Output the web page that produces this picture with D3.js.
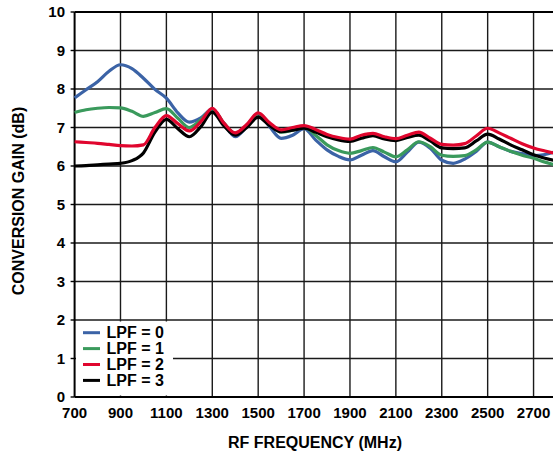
<!DOCTYPE html>
<html><head><meta charset="utf-8">
<script src="https://cdn.jsdelivr.net/npm/d3@7"></script>
<style>body{margin:0;background:#fff}svg{display:block}text{font-family:"Liberation Sans",Arial,sans-serif;font-weight:bold;fill:#000}</style>
</head><body>
<script>
const freqs = [700,750,800,850,900,950,1000,1050,1100,1150,1200,1250,1300,1350,1400,1450,1500,1550,1600,1650,1700,1750,1800,1850,1900,1950,2000,2050,2100,2150,2200,2250,2300,2350,2400,2450,2500,2550,2600,2650,2700,2750,2800];
const lpf0 = [7.77,7.98,8.19,8.46,8.63,8.53,8.28,7.99,7.76,7.38,7.14,7.25,7.48,7.10,6.76,7.02,7.36,7.02,6.72,6.80,6.97,6.68,6.42,6.25,6.16,6.28,6.40,6.24,6.11,6.36,6.62,6.46,6.15,6.07,6.18,6.38,6.62,6.50,6.38,6.32,6.27,6.30,6.38];
const lpf1 = [7.39,7.46,7.50,7.52,7.51,7.42,7.29,7.39,7.49,7.24,7.00,7.20,7.48,7.12,6.85,7.05,7.36,7.10,6.88,6.93,7.00,6.80,6.55,6.40,6.33,6.40,6.48,6.36,6.24,6.42,6.63,6.50,6.28,6.25,6.27,6.42,6.62,6.50,6.38,6.28,6.20,6.10,6.02];
const lpf2 = [6.63,6.61,6.59,6.56,6.53,6.52,6.55,7.00,7.31,7.10,6.91,7.15,7.50,7.12,6.86,7.08,7.38,7.12,6.94,7.00,7.05,6.95,6.82,6.74,6.70,6.80,6.85,6.76,6.71,6.80,6.88,6.72,6.56,6.54,6.58,6.78,6.98,6.86,6.72,6.58,6.47,6.39,6.32];
const lpf3 = [6.00,6.01,6.03,6.05,6.07,6.14,6.34,6.88,7.21,6.97,6.76,7.02,7.40,7.05,6.80,7.00,7.27,7.05,6.89,6.93,6.98,6.88,6.76,6.68,6.64,6.72,6.79,6.70,6.66,6.74,6.80,6.65,6.47,6.45,6.47,6.65,6.83,6.70,6.55,6.42,6.29,6.20,6.13];
const seriesNames = ["LPF = 0","LPF = 1","LPF = 2","LPF = 3"];
const seriesColors = ["#3b63a6","#3a9a5c","#e0062e","#000000"];
const xTicks = [700,900,1100,1300,1500,1700,1900,2100,2300,2500,2700];
const xGrid = [900,1100,1300,1500,1700,1900,2100,2300,2500,2700];
const yTicks = [0,1,2,3,4,5,6,7,8,9,10];
const xTitle = "RF FREQUENCY (MHz)";
const yTitle = "CONVERSION GAIN (dB)";

const W = 553, H = 454;
const svg = d3.select("body").append("svg").attr("width", W).attr("height", H);
const x = d3.scaleLinear().domain([700, 2800]).range([74.6, 556.5]);
const y = d3.scaleLinear().domain([0, 10]).range([397, 12]);

// grid
const g = svg.append("g");
g.selectAll(".hg").data(yTicks.filter(d => d > 0 && d < 10)).join("line")
  .attr("x1", x(700)).attr("x2", x(2800)).attr("y1", d => y(d)).attr("y2", d => y(d))
  .attr("stroke", "#1a1a1a").attr("stroke-width", 1.4);
g.selectAll(".vg").data(xGrid).join("line")
  .attr("x1", d => x(d)).attr("x2", d => x(d)).attr("y1", y(0)).attr("y2", y(10))
  .attr("stroke", "#1a1a1a").attr("stroke-width", 1.4);

// legend box (white) drawn before curves
const lg = svg.append("g");
lg.append("rect").attr("x", 76).attr("y", 321.5).attr("width", 97).attr("height", 74).attr("fill", "#fff");

// frame
svg.append("line").attr("x1", x(700)).attr("x2", x(2800)).attr("y1", y(10)).attr("y2", y(10)).attr("stroke", "#000").attr("stroke-width", 2);
svg.append("line").attr("x1", x(700)).attr("x2", x(2800)).attr("y1", y(0)).attr("y2", y(0)).attr("stroke", "#000").attr("stroke-width", 2);
svg.append("line").attr("x1", x(700)).attr("x2", x(700)).attr("y1", y(0)).attr("y2", y(10)).attr("stroke", "#000").attr("stroke-width", 2);

// y axis labels + ticks
svg.selectAll(".yt").data(yTicks).join("line")
  .attr("x1", x(700) - 4).attr("x2", x(700)).attr("y1", d => y(d)).attr("y2", d => y(d))
  .attr("stroke", "#000").attr("stroke-width", 1.4);
svg.selectAll(".yl").data(yTicks).join("text")
  .attr("x", 65).attr("y", d => y(d)).attr("dy", "0.36em").attr("text-anchor", "end")
  .attr("font-size", 15).text(d => d);
svg.selectAll(".xl").data(xTicks).join("text")
  .attr("x", d => x(d)).attr("y", 418).attr("text-anchor", "middle")
  .attr("font-size", 15).text(d => d);

svg.append("text").attr("x", 315).attr("y", 448).attr("text-anchor", "middle").attr("font-size", 16).text(xTitle);
svg.append("text").attr("transform", "translate(24,201) rotate(-90)").attr("text-anchor", "middle").attr("font-size", 16).text(yTitle);

// curves
const all = [lpf0, lpf1, lpf2, lpf3];
const line = d3.line().x((d, i) => x(freqs[i])).y(d => y(d)).curve(d3.curveMonotoneX);
const order = [0, 1, 3, 2];
const cg = svg.append("g");
order.forEach(k => {
  cg.append("path").datum(all[k]).attr("d", line).attr("fill", "none")
    .attr("stroke", seriesColors[k]).attr("stroke-width", 3.2).attr("stroke-linejoin", "round");
});

// legend entries
seriesNames.forEach((n, i) => {
  const yy = 332.7 + i * 15.9;
  lg.append("line").attr("x1", 83).attr("x2", 100).attr("y1", yy).attr("y2", yy)
    .attr("stroke", seriesColors[i]).attr("stroke-width", 3);
  lg.append("text").attr("x", 106.5).attr("y", yy).attr("dy", "0.36em").attr("font-size", 16).text(n);
});
</script>
</body></html>
